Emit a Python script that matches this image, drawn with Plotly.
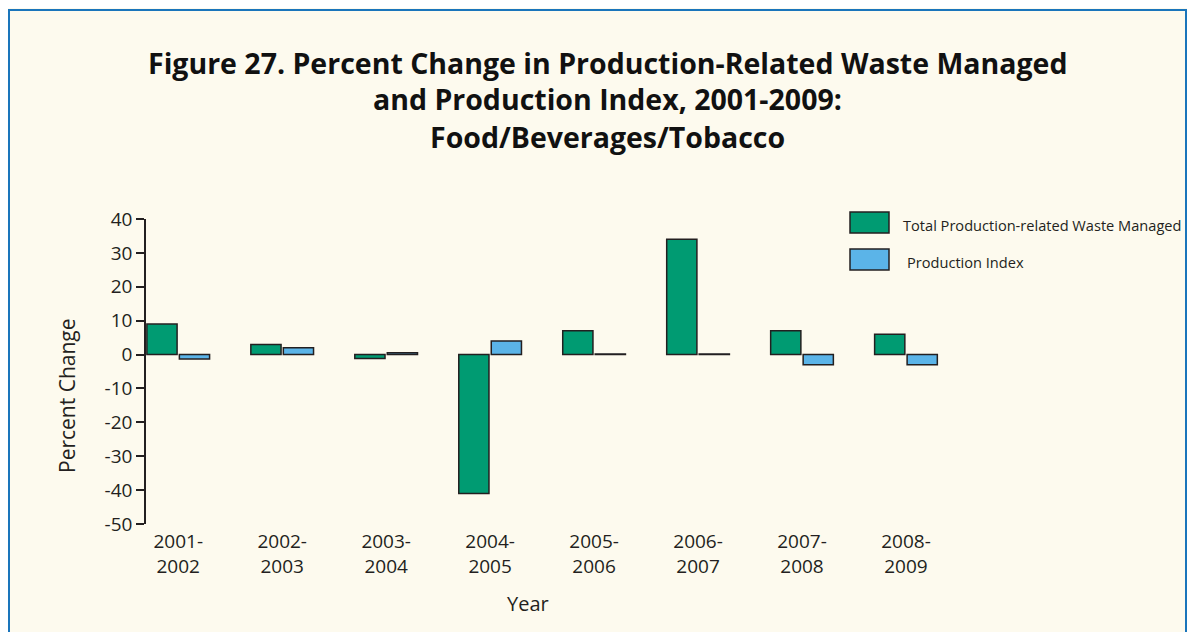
import plotly.graph_objects as go

periods = ["2001-<br>2002", "2002-<br>2003", "2003-<br>2004", "2004-<br>2005",
           "2005-<br>2006", "2006-<br>2007", "2007-<br>2008", "2008-<br>2009"]
waste_managed = [9, 3, -1.2, -41, 7, 34, 7, 6]
production_index = [-1.3, 2, 0.5, 4, 0.2, 0.2, -3, -3]

y_ticks = [40, 30, 20, 10, 0, -10, -20, -30, -40, -50]
title_lines = ["Figure 27. Percent Change in Production-Related Waste Managed",
               "and Production Index, 2001-2009:",
               "Food/Beverages/Tobacco"]

GREEN = "#009b72"
BLUE = "#5bb4e8"
DARK = "#231f20"
CREAM = "#fdfaee"
FONT = "Open Sans"

# the page body has an 8px margin, so work in window pixels and shift
OFF = 8
W, H = 1195 - OFF, 632 - OFF
L, R, T = 146 - OFF, 1195 - 946, 219 - OFF
B = H - (524 - OFF)
PW, PH = W - L - R, H - T - B


def px(x):
    return (x - OFF - L) / PW


def py(y):
    return (H - B - (y - OFF)) / PH


fig = go.Figure()

fig.add_trace(go.Bar(
    x=periods, y=waste_managed, name="Total Production-related Waste Managed",
    marker=dict(color=GREEN, line=dict(color=DARK, width=1.5)),
))
fig.add_trace(go.Bar(
    x=periods, y=production_index, name="Production Index",
    marker=dict(color=BLUE, line=dict(color=DARK, width=1.5)),
))

x_range = [-0.31, 7.385]
zero_pos = (0 - y_ticks[-1]) / (y_ticks[0] - y_ticks[-1])

# background panel with blue border
shapes = [dict(type="rect", xref="paper", yref="paper",
               x0=px(9), x1=px(1186), y0=py(660), y1=py(10),
               fillcolor=CREAM, line=dict(color="#1a75bb", width=2), layer="below")]

# manual legend
legend_items = [("Total Production-related Waste Managed", GREEN, 212, 901),
                ("Production Index", BLUE, 249, 905)]
annotations = []
for label, color, top, tx in legend_items:
    shapes.append(dict(type="rect", xref="paper", yref="paper",
                       x0=px(850), x1=px(889), y0=py(top + 21), y1=py(top),
                       fillcolor=color, line=dict(color=DARK, width=1.5)))
    annotations.append(dict(text=label, xref="paper", yref="paper",
                            x=px(tx), y=py(top + 13), xanchor="left", yanchor="middle",
                            showarrow=False, font=dict(family=FONT, size=14.6, color=DARK)))

for line, ypix in zip(title_lines, [63, 99, 137]):
    annotations.append(dict(
        text=line, xref="paper", yref="paper", x=px(607), y=py(ypix),
        xanchor="center", yanchor="middle", showarrow=False,
        font=dict(family=FONT, size=28.5, color="#111111", weight="bold"),
    ))

# axis titles
annotations.append(dict(text="Percent Change", xref="paper", yref="paper",
                        x=px(67), y=py(396), textangle=-90, showarrow=False,
                        xanchor="center", yanchor="middle",
                        font=dict(family=FONT, size=21, color=DARK)))
annotations.append(dict(text="Year", xref="paper", yref="paper",
                        x=px(528), y=py(603), showarrow=False,
                        xanchor="center", yanchor="middle",
                        font=dict(family=FONT, size=20, color=DARK)))

fig.update_layout(
    width=W, height=H,
    margin=dict(l=L, r=R, t=T, b=B),
    paper_bgcolor=CREAM,
    plot_bgcolor="rgba(0,0,0,0)",
    font=dict(family=FONT, color=DARK),
    showlegend=False,
    barmode="group",
    bargap=0.375,
    bargroupgap=0.07,
    shapes=shapes,
    annotations=annotations,
    xaxis=dict(
        type="category", range=x_range, showline=False, ticks="",
        showgrid=False, zeroline=False, ticklabelstandoff=4,
        tickfont=dict(family=FONT, size=19, color=DARK),
    ),
    xaxis2=dict(
        overlaying="x", anchor="free", position=zero_pos, range=x_range,
        tickmode="array", tickvals=[0.5, 1.5, 2.5, 3.5, 4.5, 5.5, 6.5, 7.38],
        ticks="outside", ticklen=8, tickwidth=2, tickcolor=DARK,
        showticklabels=False, showline=True, linecolor=DARK, linewidth=1.5,
        showgrid=False, zeroline=False, side="bottom",
    ),
    yaxis=dict(
        range=[y_ticks[-1], y_ticks[0]], tickmode="array", tickvals=y_ticks,
        ticktext=[str(v) for v in y_ticks],
        ticks="outside", ticklen=8, tickwidth=1.5, tickcolor=DARK,
        showline=True, linecolor=DARK, linewidth=1.5,
        showgrid=False, zeroline=False,
        tickfont=dict(family=FONT, size=19, color=DARK),
    ),
)

fig.write_html("out.html")
